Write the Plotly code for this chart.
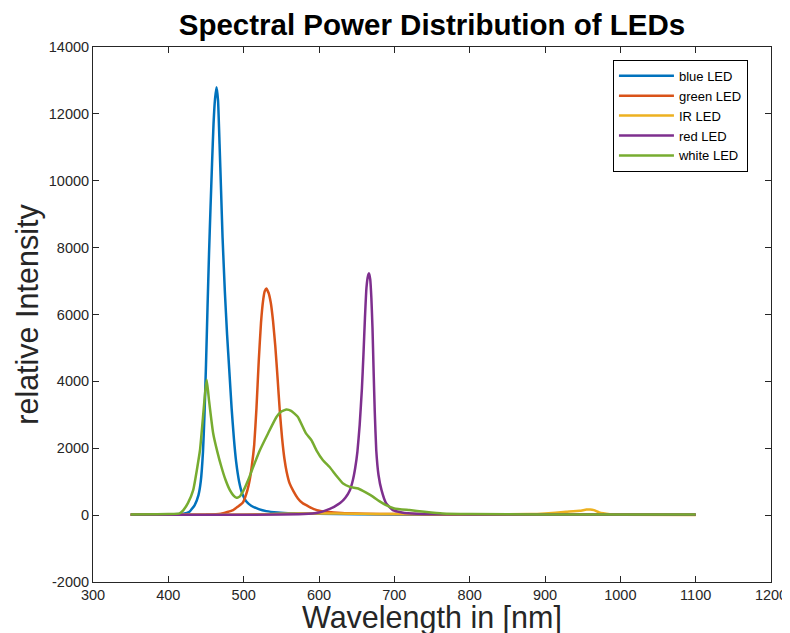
import plotly.graph_objects as go

# ---- data ----
blue_wl = [350, 380, 400, 420, 428, 435, 440, 443, 446, 448, 450, 452, 454, 456, 458, 460, 462, 464,
           466, 468, 470, 472, 475, 478, 481, 484, 487, 490, 494, 498, 503, 510, 520, 530, 545, 565,
           600, 700, 800, 900, 1000, 1100]
blue_val = [20, 15, 20, 40, 100, 300, 600, 1000, 1900, 3000, 4500, 6200, 7800, 9200, 10500, 11700,
            12450, 12800, 12400, 11100, 9700, 8300, 6700, 5400, 4300, 3200, 2300, 1600, 1000, 650,
            420, 280, 180, 120, 80, 55, 40, 20, 10, 10, 10, 10]

green_wl = [350, 450, 470, 486, 492, 499, 505, 508, 511, 514, 517, 520, 523, 526, 528, 530, 533, 536,
            539, 542, 545, 548, 551, 554, 557, 561, 566, 572, 578, 587, 597, 610, 630, 660, 700, 800,
            1100]
green_val = [10, 15, 40, 150, 250, 380, 750, 1050, 1500, 2100, 3200, 4600, 5750, 6450, 6700, 6780,
             6650, 6350, 5800, 5050, 4100, 3100, 2300, 1700, 1300, 950, 720, 500, 360, 250, 150, 100,
             60, 40, 30, 20, 10]

ir_wl = [350, 500, 550, 600, 650, 700, 800, 880, 900, 928, 946, 955, 960, 965, 972, 986, 1000, 1100]
ir_val = [10, 20, 40, 50, 40, 30, 20, 30, 50, 100, 130, 165, 170, 150, 80, 30, 10, 5]

red_wl = [350, 500, 580, 600, 610, 620, 628, 635, 641, 645, 648, 651, 654, 657, 659, 661, 663,
          665, 666.5, 668, 669.5, 671, 672.5, 674, 676, 679, 683, 689, 698, 710, 730, 800, 1100]
red_val = [10, 10, 30, 80, 150, 250, 360, 520, 746, 1050, 1400, 1900, 2700, 3800, 4800, 5900, 6800,
           7150, 7230, 7050, 6500, 5600, 4300, 3100, 1940, 1200, 746, 360, 150, 80, 40, 20, 10]

white_wl = [350, 400, 415, 420, 426, 433, 442, 446, 449, 451, 454, 459.5, 465, 470.5, 476, 481.7,
            486, 490.5, 495, 500, 506, 512.6, 521.5, 532.5, 543.5, 550, 556.8, 563, 572, 582.5, 590,
            596.6, 605, 614, 623, 632, 641, 652, 662, 672, 680, 689, 700, 720, 740, 764, 800, 900,
            1000, 1100]
white_val = [20, 30, 50, 150, 358, 746, 1940, 2935, 3700, 4050, 3433, 2450, 1900, 1440, 1050, 746,
             600, 518, 560, 746, 1050, 1440, 1940, 2450, 2935, 3100, 3160, 3120, 2935, 2450, 2240,
             1940, 1650, 1440, 1180, 945, 845, 796, 680, 547, 420, 300, 200, 150, 100, 50, 30, 20,
             15, 15]

series = [
    ("blue LED", blue_wl, blue_val, "#0072BD"),
    ("green LED", green_wl, green_val, "#D95319"),
    ("IR LED", ir_wl, ir_val, "#EDB120"),
    ("red LED", red_wl, red_val, "#7E2F8E"),
    ("white LED", white_wl, white_val, "#77AC30"),
]

x_ticks = [300, 400, 500, 600, 700, 800, 900, 1000, 1100, 1200]
y_ticks = [-2000, 0, 2000, 4000, 6000, 8000, 10000, 12000, 14000]

fig = go.Figure()
for name, wl, val, col in series:
    fig.add_trace(go.Scatter(x=wl, y=val, name=name, mode="lines",
                             line=dict(color=col, width=2.5, shape="spline", smoothing=0.4)))

font_family = "Liberation Sans, Arial, Helvetica, sans-serif"
fig.update_layout(
    width=790, height=633,
    margin=dict(l=85, r=27, t=39, b=59, autoexpand=False),
    paper_bgcolor="white", plot_bgcolor="white",
    font=dict(family=font_family, color="#262626", size=14.5),
    title=dict(text="<b>Spectral Power Distribution of LEDs</b>", xref="paper", x=0.5,
               xanchor="center", yref="container", y=0.973, yanchor="middle",
               font=dict(size=29.5, color="black", family=font_family)),
    showlegend=True,
    legend=dict(x=0.966, xanchor="right", y=0.976, yanchor="top",
                bordercolor="black", borderwidth=1, bgcolor="white",
                font=dict(size=13, color="black"), tracegroupgap=0, itemwidth=55),
    annotations=[
        dict(text="Wavelength in [nm]", xref="paper", yref="paper", x=0.5, y=-0.066,
             xanchor="center", yanchor="middle", showarrow=False,
             font=dict(size=30.5, color="#262626")),
        dict(text="relative Intensity", xref="paper", yref="paper", x=-0.097, y=0.5,
             xanchor="center", yanchor="middle", showarrow=False, textangle=-90,
             font=dict(size=30.5, color="#262626")),
    ],
)
fig.update_xaxes(range=[300, 1200], tickvals=x_ticks, ticktext=[str(v) for v in x_ticks],
                 ticks="inside", ticklen=6, tickcolor="#262626", showline=True, linecolor="#262626",
                 linewidth=1, mirror="ticks", showgrid=False, zeroline=False, automargin=False)
fig.update_yaxes(range=[-2000, 14000], tickvals=y_ticks, ticktext=[str(v) for v in y_ticks],
                 ticks="inside", ticklen=6, tickcolor="#262626", showline=True, linecolor="#262626",
                 linewidth=1, mirror="ticks", showgrid=False, zeroline=False, automargin=False)

fig.write_html("out.html")
